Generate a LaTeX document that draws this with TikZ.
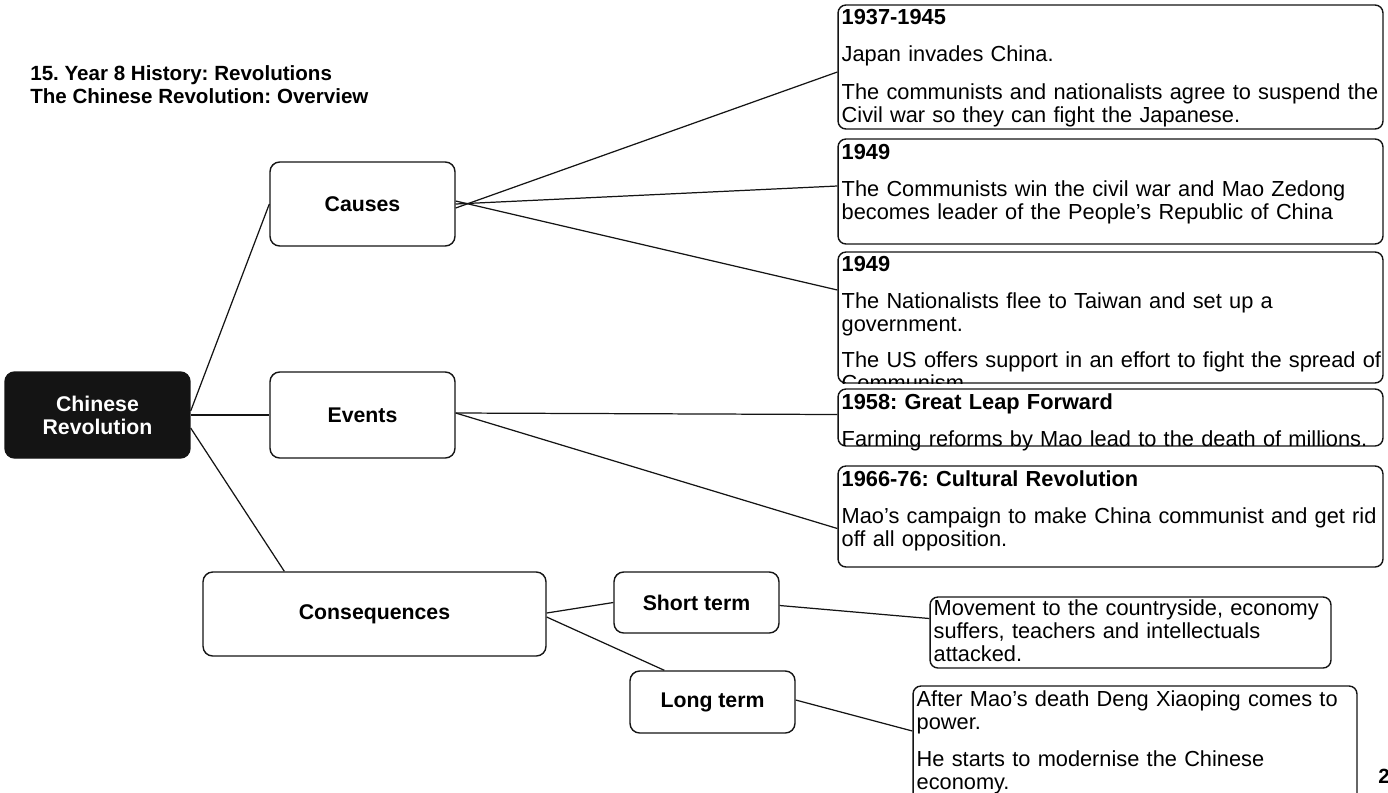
\documentclass[tikz,border=0pt]{standalone}
\usepackage{fontspec}
\setmainfont{Liberation Sans}
\frenchspacing
\definecolor{ink}{HTML}{141414}
\tikzset{topic/.style = {shape=rectangle,draw=ink,line width=0.8pt,rounded corners=5.5pt,inner sep=0pt,align=center,font=\fontsize{12.1}{13.2}\selectfont\bfseries}}
\tikzset{core/.style = {topic,fill=ink,text=white}}
\tikzset{infobox/.style = {shape=rectangle,draw=ink,line width=0.8pt,rounded corners=4.5pt,inner sep=0pt}}
\tikzset{info/.style = {anchor=base west,inner sep=0pt,align=left,text width=11.5cm,font=\fontsize{12.4}{13.1}\selectfont}}
\tikzset{heading/.style = {anchor=north west,inner sep=0pt,align=left,font=\fontsize{11.7}{13}\selectfont\bfseries}}
\tikzset{edge/.style = {-,draw=ink,line width=0.7pt}}

\begin{document}
\begin{tikzpicture}[x=0.02cm,y=-0.02cm]
\useasboundingbox (0,0) rectangle (1388,792);
\clip (0,0) rectangle (1388,792);
% title and page number
\node[heading] (title) at (30,65) {15. Year 8 History: Revolutions\\The Chinese Revolution: Overview};
\node[heading,anchor=base west] (page) at (1378,783) {2};
% vertices
\node[core,minimum width=3.7cm,minimum height=1.72cm] (china) at (97.5,415) {Chinese\\Revolution};
\node[topic,minimum width=3.7cm,minimum height=1.68cm] (causes) at (362.5,204) {Causes};
\node[topic,minimum width=3.7cm,minimum height=1.72cm] (events) at (362.5,415) {Events};
\node[topic,minimum width=6.86cm,minimum height=1.68cm] (cons) at (374.5,614) {Consequences};
\node[topic,minimum width=3.3cm,minimum height=1.22cm] (short) at (696.5,602.5) {Short term};
\node[topic,minimum width=3.3cm,minimum height=1.24cm] (long) at (712.5,702) {Long term};
% detail boxes
\node[infobox,minimum width=10.9cm,minimum height=2.48cm] (d1) at (1110.5,67) {};
\node[infobox,minimum width=10.9cm,minimum height=2.1cm] (d2) at (1110.5,191.5) {};
\node[infobox,minimum width=10.9cm,minimum height=2.62cm] (d3) at (1110.5,317.5) {};
\node[infobox,minimum width=10.9cm,minimum height=1.14cm] (d4) at (1110.5,417.5) {};
\node[infobox,minimum width=10.9cm,minimum height=2.02cm] (d5) at (1110.5,516.5) {};
\node[infobox,minimum width=8.02cm,minimum height=1.42cm] (d6) at (1130.5,632.5) {};
\node[infobox,minimum width=8.88cm,minimum height=2.4cm] (d7) at (1135,746) {};
% box texts
\node[info] at ([shift={(4,20)}]d1.north west) {\textbf{1937-1945}\\[8.2pt]
  Japan invades China.\\[8.2pt]
  The communists and nationalists agree to suspend the\\
  Civil war so they can fight the Japanese.};
\node[info] at ([shift={(4,21)}]d2.north west) {\textbf{1949}\\[8.2pt]
  The Communists win the civil war and Mao Zedong\\
  becomes leader of the People’s Republic of China};
\begin{scope}
\clip[rounded corners=4.5pt] (d3.north west) rectangle (d3.south east);
\node[info] at ([shift={(4,20)}]d3.north west) {\textbf{1949}\\[7.8pt]
  The Nationalists flee to Taiwan and set up a\\
  government.\\[7.8pt]
  The US offers support in an effort to fight the spread of\\
  Communism.};
\end{scope}
\node[info] at ([shift={(4,21)}]d4.north west) {\textbf{1958: Great Leap Forward}\\[8.2pt]
  Farming reforms by Mao lead to the death of millions.};
\node[info] at ([shift={(4,21)}]d5.north west) {\textbf{1966-76: Cultural Revolution}\\[8.2pt]
  Mao’s campaign to make China communist and get rid\\
  off all opposition.};
\node[info] at ([shift={(4,19)}]d6.north west) {Movement to the countryside, economy\\
  suffers, teachers and intellectuals\\
  attacked.};
\node[info] at ([shift={(4,21)}]d7.north west) {After Mao’s death Deng Xiaoping comes to\\
  power.\\[8.2pt]
  He starts to modernise the Chinese\\
  economy.};
%edges
\draw[edge] ([shift={(0,-4)}]china.east) to (causes.west);
\draw[edge] (china.east) to (events.west);
\draw[edge] ([shift={(0,13)}]china.east) to ([shift={(82,0)}]cons.north west);
\draw[edge] ([shift={(0,4)}]causes.east) to ([shift={(0,5)}]d1.west);
\draw[edge] (causes.east) to ([shift={(0,-5.5)}]d2.west);
\draw[edge] ([shift={(0,-3)}]causes.east) to ([shift={(0,-27.5)}]d3.west);
\draw[edge] ([shift={(0,-2)}]events.east) to ([shift={(0,-3)}]d4.west);
\draw[edge] ([shift={(0,-2)}]events.east) to ([shift={(0,12)}]d5.west);
\draw[edge] ([shift={(0,-1)}]cons.east) to (short.west);
\draw[edge] ([shift={(0,3)}]cons.east) to ([shift={(35,0)}]long.north west);
\draw[edge] ([shift={(0,3)}]short.east) to ([shift={(0,-14)}]d6.west);
\draw[edge] ([shift={(0,-2)}]long.east) to ([shift={(0,-15)}]d7.west);
\end{tikzpicture}
\end{document}
